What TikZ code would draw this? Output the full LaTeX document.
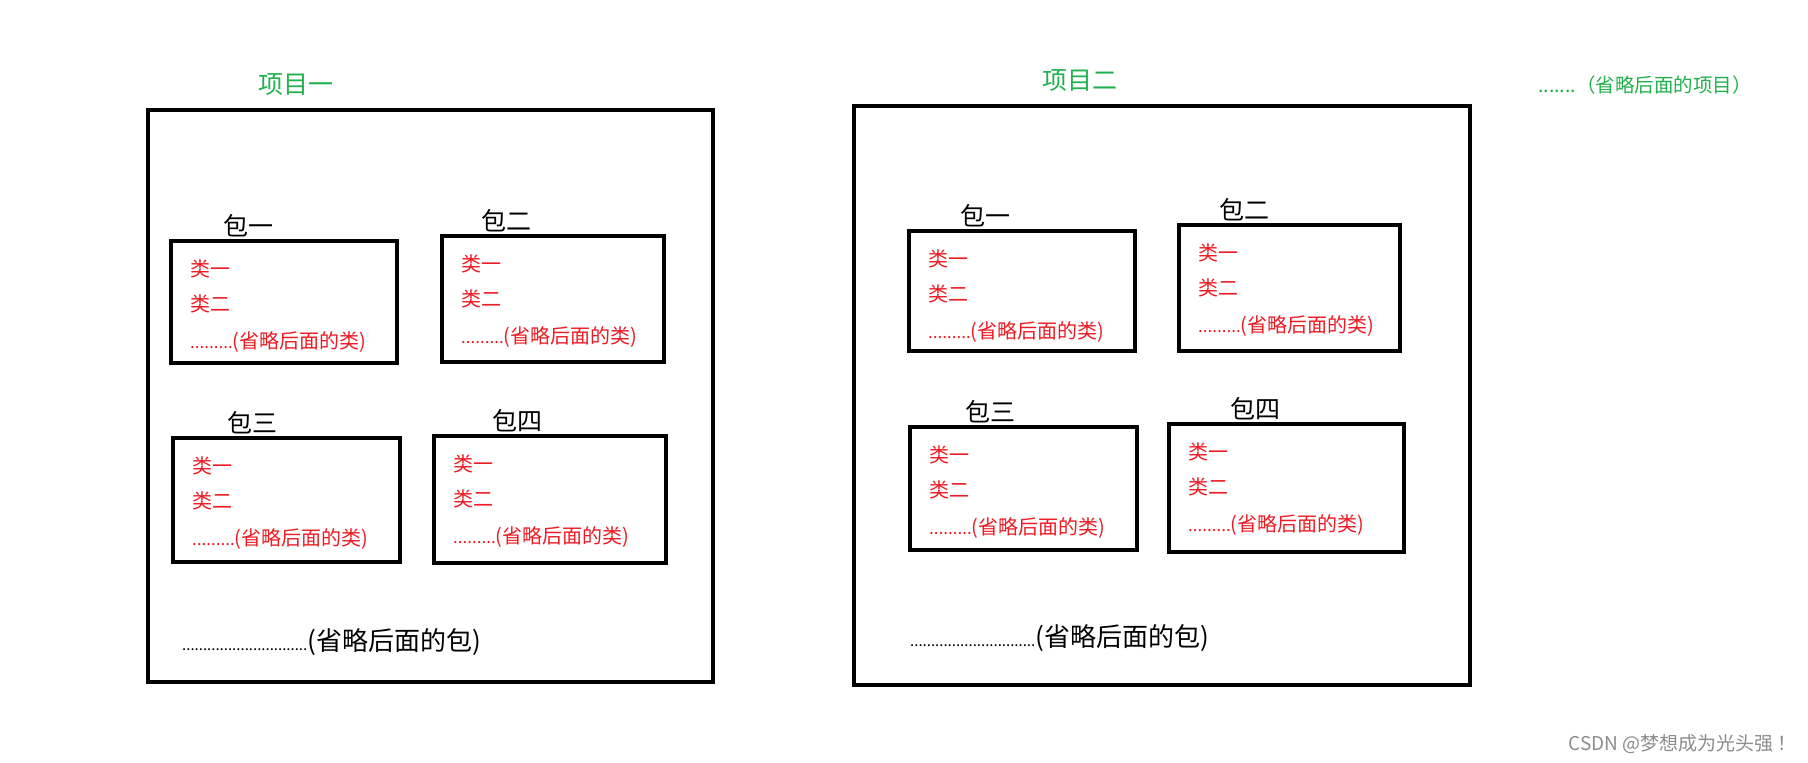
\documentclass[tikz,border=0pt]{standalone}
\usepackage{fontspec}
\setmainfont{Noto Sans CJK SC}
\definecolor{pgreen}{RGB}{34,177,76}
\definecolor{cred}{RGB}{237,28,36}
\tikzset{
  box/.style={draw=black,line width=4.5pt},
  pkglabel/.style={anchor=south west,inner sep=0pt,font=\fontsize{25}{25}\selectfont},
  cls/.style={anchor=west,inner sep=0pt,text=cred,font=\fontsize{20}{20}\selectfont},
  title/.style={anchor=west,inner sep=0pt,text=pgreen,font=\fontsize{25}{25}\selectfont},
  omit/.style={anchor=west,inner sep=0pt,font=\fontsize{26}{26}\selectfont}
}
\newcommand\smalldots[2]{{\fontsize{#1}{#1}\selectfont #2}}
\newcommand\pkgbox[7]{% name x1 y1 x2 y2 labelx label
  \draw[box] (#2,#3) rectangle (#4,#5);
  \node[pkglabel] (#1) at (#6,#3-4) {#7};
  \node[cls] (#1c1) at (#2+19,#3+28) {类一};
  \node[cls] (#1c2) at (#2+19,#3+63) {类二};
  \node[cls] (#1c3) at (#2+19,#3+101) {\smalldots{17}{.........}(省略后面的类)};
}
\begin{document}
\begin{tikzpicture}[x=1pt,y=-1pt]
\useasboundingbox[fill=white] (0,0) rectangle (1808,763);
% project one
\draw[box] (148,110) rectangle (713,682);
\node[title] (t1) at (258,85) {项目一};
\pkgbox{a1}{171}{241}{397}{363}{223}{包一}
\pkgbox{a2}{442}{236}{664}{362}{481}{包二}
\pkgbox{a3}{173}{438}{400}{562}{227}{包三}
\pkgbox{a4}{434}{436}{666}{563}{492}{包四}
\node[omit] (o1) at (182,642) {\smalldots{15}{..............................}(省略后面的包)};
% project two
\draw[box] (854,106) rectangle (1470,685);
\node[title] (t2) at (1042,81) {项目二};
\pkgbox{b1}{909}{231}{1135}{351}{960}{包一}
\pkgbox{b2}{1179}{225}{1400}{351}{1219}{包二}
\pkgbox{b3}{910}{427}{1137}{550}{965}{包三}
\pkgbox{b4}{1169}{424}{1404}{552}{1230}{包四}
\node[omit] (o2) at (910,638) {\smalldots{15}{..............................}(省略后面的包)};
\node[anchor=west,inner sep=0pt,text=pgreen,font=\fontsize{19.5}{19.5}\selectfont] (more) at (1538,85) {.......（省略后面的项目）};
\node[anchor=east,inner sep=0pt,text=black!45,font=\fontsize{19}{19}\selectfont] (wm) at (1797,744) {CSDN @梦想成为光头强 ！};
\end{tikzpicture}
\end{document}
